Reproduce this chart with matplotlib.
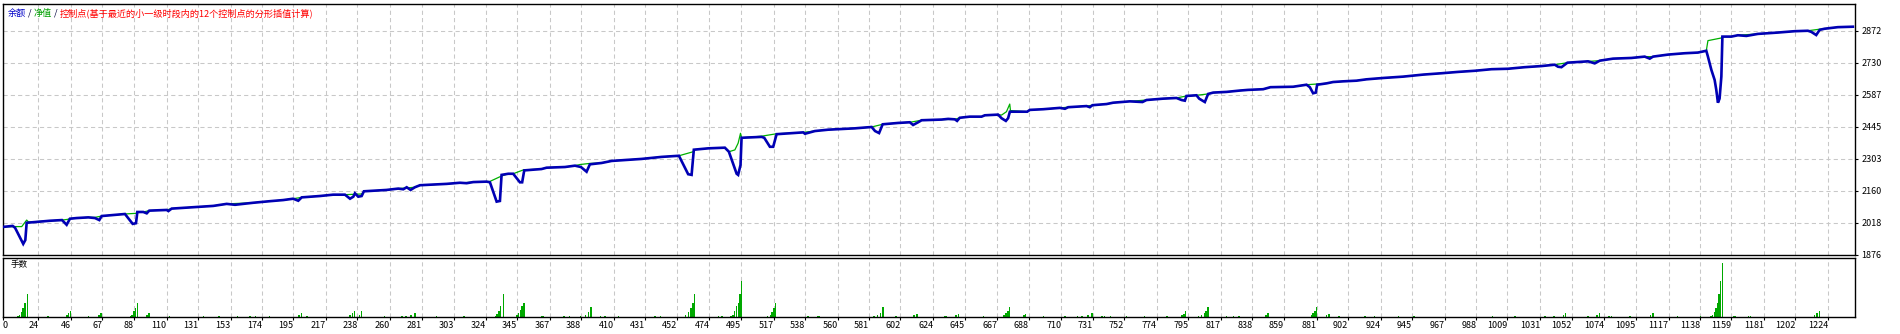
import numpy as np
import matplotlib.pyplot as plt

plt.rcParams['font.family'] = ['Noto Sans CJK SC', 'DejaVu Sans']

# %% data
x_labels = ['0', '24', '46', '67', '88', '110', '131', '153', '174', '195', '217', '238', '260',
            '281', '303', '324', '345', '367', '388', '410', '431', '452', '474', '495', '517',
            '538', '560', '581', '602', '624', '645', '667', '688', '710', '731', '752', '774',
            '795', '817', '838', '859', '881', '902', '924', '945', '967', '988', '1009', '1031',
            '1052', '1074', '1095', '1117', '1138', '1159', '1181', '1202', '1224']
y_ticks = [1876, 2018, 2160, 2303, 2445, 2587, 2730, 2872]

# blue curve (trade no., value)
blue_pts = [(1, 2000), (6.8, 2004), (8.4, 1996), (13.9, 1924), (15.3, 1941), (16.2, 2018),
            (31.8, 2027), (39.9, 2030), (43.0, 2009), (45.2, 2036), (49.7, 2039), (57.5, 2042),
            (62.0, 2039), (64.9, 2030), (66.5, 2048), (82.1, 2057), (83.9, 2042), (87.3, 2013),
            (89.5, 2016), (90.4, 2066), (94.4, 2066), (96.7, 2060), (98.4, 2072), (110.1, 2075),
            (111.2, 2070), (113.4, 2081), (127.9, 2087), (141.3, 2093), (150.3, 2102), (155.9, 2098),
            (168.1, 2107), (179.3, 2114), (188.2, 2119), (194.9, 2125), (198.3, 2116), (200.6, 2131),
            (212.8, 2137), (221.7, 2143), (229.6, 2143), (233.0, 2125), (235.2, 2134), (236.3, 2149),
            (238.5, 2134), (240.8, 2137), (242.3, 2158), (257.5, 2164), (265.3, 2170), (268.7, 2167),
            (271.0, 2176), (273.6, 2164), (276.5, 2176), (279.9, 2185), (297.8, 2191), (306.7, 2196),
            (311.2, 2194), (315.6, 2199), (324.6, 2201), (326.8, 2198), (331.3, 2112), (333.5, 2115),
            (334.6, 2231), (339.1, 2236), (342.4, 2236), (346.9, 2198), (348.4, 2198), (349.8, 2251),
            (361.4, 2257), (364.8, 2263), (377.1, 2266), (383.8, 2272), (387.8, 2266), (391.6, 2245),
            (393.8, 2278), (401.7, 2284), (408.4, 2293), (428.5, 2302), (441.9, 2311), (453.5, 2316),
            (459.7, 2234), (462.0, 2231), (463.5, 2343), (473.1, 2349), (484.3, 2352), (487.0, 2334),
            (492.2, 2236), (493.2, 2231), (494.8, 2275), (495.5, 2396), (508.9, 2400), (510.7, 2396),
            (514.5, 2356), (516.7, 2356), (519.0, 2412), (530.1, 2417), (536.8, 2420), (538.0, 2414),
            (544.7, 2426), (553.6, 2432), (562.6, 2435), (571.5, 2438), (582.7, 2444), (585.0, 2426),
            (587.7, 2417), (590.1, 2456), (600.5, 2462), (608.3, 2465), (610.5, 2453), (613.9, 2465),
            (616.2, 2474), (629.6, 2477), (634.0, 2480), (638.5, 2478), (640.0, 2471), (641.8, 2485),
            (648.5, 2490), (656.4, 2490), (658.6, 2496), (667.5, 2499), (669.8, 2483), (672.7, 2471),
            (674.2, 2483), (675.4, 2512), (687.0, 2512), (688.8, 2520), (697.7, 2523), (708.9, 2529),
            (712.3, 2525), (714.5, 2532), (726.8, 2537), (729.0, 2532), (730.8, 2541), (740.2, 2546),
            (744.6, 2552), (755.8, 2558), (764.3, 2555), (767.0, 2564), (778.1, 2570), (787.1, 2573),
            (790.5, 2564), (792.7, 2561), (793.8, 2582), (800.5, 2585), (802.3, 2570), (806.1, 2555),
            (808.3, 2591), (811.7, 2597), (820.6, 2600), (829.5, 2606), (835.1, 2609), (845.2, 2612),
            (850.1, 2621), (865.3, 2623), (874.3, 2632), (876.5, 2621), (878.7, 2594), (880.5, 2597),
            (881.4, 2632), (887.7, 2638), (892.1, 2644), (898.8, 2647), (907.8, 2650), (914.5, 2656),
            (925.7, 2662), (939.1, 2668), (952.5, 2677), (964.8, 2683), (975.9, 2689), (987.1, 2694),
            (998.3, 2701), (1009.4, 2703), (1020.6, 2710), (1031.8, 2715), (1040.7, 2721), (1042.9, 2712),
            (1045.2, 2710), (1049.2, 2730), (1063.0, 2736), (1067.5, 2727), (1070.9, 2739), (1079.8, 2748),
            (1092.1, 2751), (1101.0, 2757), (1104.4, 2748), (1106.6, 2757), (1116.7, 2766), (1127.8, 2772),
            (1136.7, 2775), (1142.3, 2783), (1143.4, 2757), (1145.7, 2698), (1147.9, 2653), (1149.0, 2609),
            (1150.1, 2552), (1151.2, 2570), (1152.4, 2668), (1153.1, 2846), (1159.1, 2846), (1163.5, 2852),
            (1169.2, 2849), (1176.9, 2858), (1190.3, 2864), (1201.5, 2870), (1210.4, 2872), (1212.7, 2867),
            (1216.0, 2853), (1218.3, 2876), (1221.6, 2881), (1230.5, 2888), (1240.6, 2890)]

# green curve (trade no., value)
green_pts = [(1, 2000), (8.4, 2001), (12.9, 2001), (16.2, 2030), (17.5, 2021), (31.8, 2027),
             (39.9, 2030), (43.5, 2033), (45.2, 2036), (49.7, 2039), (57.5, 2042), (62.0, 2042),
             (66.5, 2048), (82.1, 2057), (89.5, 2060), (90.4, 2066), (94.4, 2066), (98.4, 2072),
             (110.1, 2075), (113.4, 2081), (127.9, 2087), (141.3, 2093), (150.3, 2102), (168.1, 2107),
             (179.3, 2114), (188.2, 2119), (194.9, 2125), (200.6, 2131), (212.8, 2137), (221.7, 2143),
             (229.6, 2143), (240.8, 2146), (242.3, 2158), (257.5, 2164), (265.3, 2170), (276.5, 2176),
             (279.9, 2185), (297.8, 2191), (315.6, 2199), (324.6, 2201), (326.8, 2202), (334.6, 2226),
             (339.1, 2236), (342.4, 2236), (349.1, 2253), (361.4, 2257), (364.8, 2263), (377.1, 2266),
             (383.8, 2272), (387.1, 2277), (393.8, 2282), (401.7, 2284), (408.4, 2293), (428.5, 2302),
             (441.9, 2311), (453.5, 2316), (463.1, 2334), (463.5, 2343), (473.1, 2349), (484.3, 2352),
             (487.0, 2334), (491.0, 2342), (493.2, 2372), (494.8, 2416), (495.5, 2396), (508.9, 2403),
             (519.0, 2414), (530.1, 2417), (536.8, 2420), (544.7, 2426), (553.6, 2432), (562.6, 2435),
             (571.5, 2438), (582.7, 2444), (590.1, 2456), (600.5, 2462), (608.3, 2465), (616.2, 2474),
             (629.6, 2477), (638.5, 2478), (641.8, 2485), (648.5, 2490), (656.4, 2490), (658.6, 2496),
             (667.5, 2499), (669.8, 2497), (673.1, 2512), (675.3, 2546), (675.8, 2517), (687.0, 2512),
             (688.8, 2520), (697.7, 2523), (708.9, 2529), (714.5, 2532), (726.8, 2537), (730.8, 2541),
             (740.2, 2546), (744.6, 2552), (755.8, 2558), (767.0, 2564), (778.1, 2570), (787.1, 2573),
             (793.8, 2582), (800.5, 2585), (808.3, 2591), (811.7, 2597), (820.6, 2600), (829.5, 2606),
             (835.1, 2609), (845.2, 2612), (850.1, 2621), (865.3, 2623), (874.3, 2632), (880.9, 2635),
             (887.7, 2638), (892.1, 2644), (898.8, 2647), (907.8, 2650), (914.5, 2656), (925.7, 2662),
             (939.1, 2668), (952.5, 2677), (964.8, 2683), (975.9, 2689), (987.1, 2694), (998.3, 2701),
             (1009.4, 2703), (1020.6, 2710), (1031.8, 2715), (1040.7, 2721), (1049.2, 2730), (1063.0, 2736),
             (1070.9, 2739), (1079.8, 2748), (1092.1, 2751), (1101.0, 2757), (1106.6, 2757), (1116.7, 2766),
             (1127.8, 2772), (1136.7, 2775), (1142.3, 2783), (1143.4, 2828), (1152.4, 2840), (1153.1, 2846),
             (1159.1, 2846), (1163.5, 2852), (1176.9, 2858), (1190.3, 2864), (1201.5, 2870), (1210.4, 2872),
             (1218.3, 2879), (1221.6, 2881), (1230.5, 2888), (1240.6, 2890)]

# lot sizes (trade no., relative lots)
lots = [(10.3, 1), (11.5, 2), (12.7, 5), (13.9, 9), (15.1, 14), (16.9, 23), (30.6, 1), (43.2, 1.5),
        (44.4, 4), (45.6, 6), (57.6, 1), (64.7, 2), (66.0, 3.3), (85.7, 1), (86.8, 2), (88.1, 6),
        (89.3, 9), (90.5, 14), (97.0, 2), (98.2, 3.3), (112, 1), (134.8, 1), (145, 1), (157.5, 1),
        (166, 1), (169.5, 1), (179, 1), (198.8, 2), (200.6, 3.3), (204, 1), (233, 1.5), (234.8, 4),
        (236, 6), (239.5, 2), (240.7, 6), (256, 1), (267.7, 1), (270.5, 1), (274, 1.5), (276.5, 3.3),
        (291, 1), (309.4, 1), (330.5, 1), (331.7, 2.7), (332.9, 6), (334, 10.7), (335.9, 23),
        (345, 1.5), (346, 3.3), (347.2, 7), (348.4, 10.7), (349.6, 14), (361.6, 1), (362.8, 1),
        (376.6, 1), (380, 1), (387.4, 1), (391, 1.5), (392.8, 4.7), (394.5, 10), (401, 1), (404, 1),
        (413, 1), (437.6, 1), (441.2, 1), (458, 1.5), (459.8, 4.7), (461.6, 9), (462.8, 14), (464, 23),
        (480.1, 1), (482.5, 1), (488.5, 1), (489.7, 2), (490.9, 6), (492, 10.7), (493.3, 14),
        (494.5, 23), (495.4, 36), (513, 1), (514.8, 2), (516, 4.7), (517.2, 9), (518.4, 14), (540, 1),
        (546.6, 1), (547.7, 1), (584.2, 1), (586.7, 1.5), (588.5, 3.3), (590.3, 10), (599.2, 1),
        (611.2, 1.5), (613, 2.7), (631.5, 1), (632.7, 1), (639.3, 1.5), (641, 2.7), (657.8, 1),
        (671.6, 1.5), (672.8, 3.3), (674, 6), (675.2, 10), (684.8, 1.5), (686, 2.7), (698, 1),
        (712.4, 1), (720.7, 1), (723.6, 1), (727.9, 1.5), (730.3, 3.3), (737, 1), (738.7, 1),
        (742.9, 1), (753.6, 1), (765.6, 1), (780.6, 1), (790.7, 1.5), (792, 2.7), (793.1, 6),
        (802, 1), (804, 1.5), (805.8, 3.3), (807, 6), (808.2, 10), (820.7, 1), (825.4, 1), (829, 1),
        (847, 2), (848.3, 3.3), (877.5, 1.5), (878.7, 3.3), (879.9, 6), (881.1, 10), (887.7, 1.5),
        (889.5, 2.7), (896, 1), (913.4, 1), (920, 1), (936.1, 1), (946.3, 1), (999, 1), (1014, 1),
        (1034, 1), (1040.2, 1), (1046.4, 1.5), (1048, 3.3), (1062.9, 1), (1069, 1.5), (1070.6, 3.3),
        (1077.2, 1), (1078.8, 1), (1091.2, 1), (1105, 1.5), (1106.6, 3.3), (1123, 1), (1138.4, 1),
        (1145.6, 1), (1146.6, 2), (1147.7, 4.7), (1148.7, 9), (1149.7, 14), (1150.8, 23),
        (1151.8, 36), (1153.3, 54), (1161, 1), (1162, 1), (1170.7, 1), (1171.8, 1), (1215, 1.5),
        (1216.6, 3.3), (1218.2, 6)]

legend_parts = [('余额', '#0000c8'), (' / ', '#000040'), ('净值', '#00a000'), (' / ', '#000040'),
                ('控制点(基于最近的小一级时段内的12个控制点的分形插值计算)', '#ff0000')]

# %% figure
W, H = 1900, 334
fig = plt.figure(figsize=(W / 100, H / 100), dpi=100, facecolor='white')

ax = fig.add_axes([2.5 / W, (H - 254.7) / H, (1855 - 2.5) / W, (254.7 - 4) / H])
ax2 = fig.add_axes([2.5 / W, (H - 316.7) / H, (1855 - 2.5) / W, (316.7 - 257.5) / H])

x_pos = [float(s) for s in x_labels]
grid_kw = dict(color='#c8c8c8', linestyle=(0, (4, 3)), linewidth=0.75)

bx, by = zip(*blue_pts)
gx, gy = zip(*green_pts)
ax.plot(gx, gy, color='#00b000', linewidth=0.9, zorder=3)
ax.plot(bx, by, color='#0000b4', linewidth=1.9, zorder=4, solid_joinstyle='miter')

ax.set_xlim(0, 1242)
ax.set_ylim(1876, 2991)
ax.set_xticks(x_pos)
ax.set_yticks(y_ticks)
ax.set_yticklabels([str(v) for v in y_ticks])
ax.yaxis.tick_right()
ax.tick_params(axis='y', labelsize=6.5, length=2.5, width=0.8, pad=2)
ax.tick_params(axis='x', length=0, labelbottom=False)
ax.grid(True, **grid_kw)
ax.set_axisbelow(True)

lx, lh = zip(*lots)
ax2.bar(lx, lh, width=1.0, color='#00a800', linewidth=0)
ax2.set_xlim(0, 1242)
ax2.set_ylim(0, 59)
ax2.set_yticks([])
ax2.set_xticks(x_pos)
ax2.set_xticklabels(x_labels)
ax2.tick_params(axis='x', labelsize=6.5, length=2, width=0.8, pad=1)
for t in ax2.get_xticklabels():
    t.set_ha('right')
ax2.get_xticklabels()[0].set_ha('left')
ax2.xaxis.grid(True, **grid_kw)
ax2.set_axisbelow(True)
ax2.text(8 / 1852.5, 1 - 7 / 59.2, '手数', transform=ax2.transAxes, fontsize=6.2,
         va='center', ha='left')

for a in (ax, ax2):
    for sp in a.spines.values():
        sp.set_color('black')
        sp.set_linewidth(1.0)

# legend line in multiple colours
fig.canvas.draw()
r = fig.canvas.get_renderer()
x = 8
for s, c in legend_parts:
    t = fig.text(x / W, 1 - 13 / H, s, color=c, fontsize=6.6, va='center', ha='left')
    x += t.get_window_extent(r).width

fig.savefig('out.png', dpi=100, facecolor='white')
